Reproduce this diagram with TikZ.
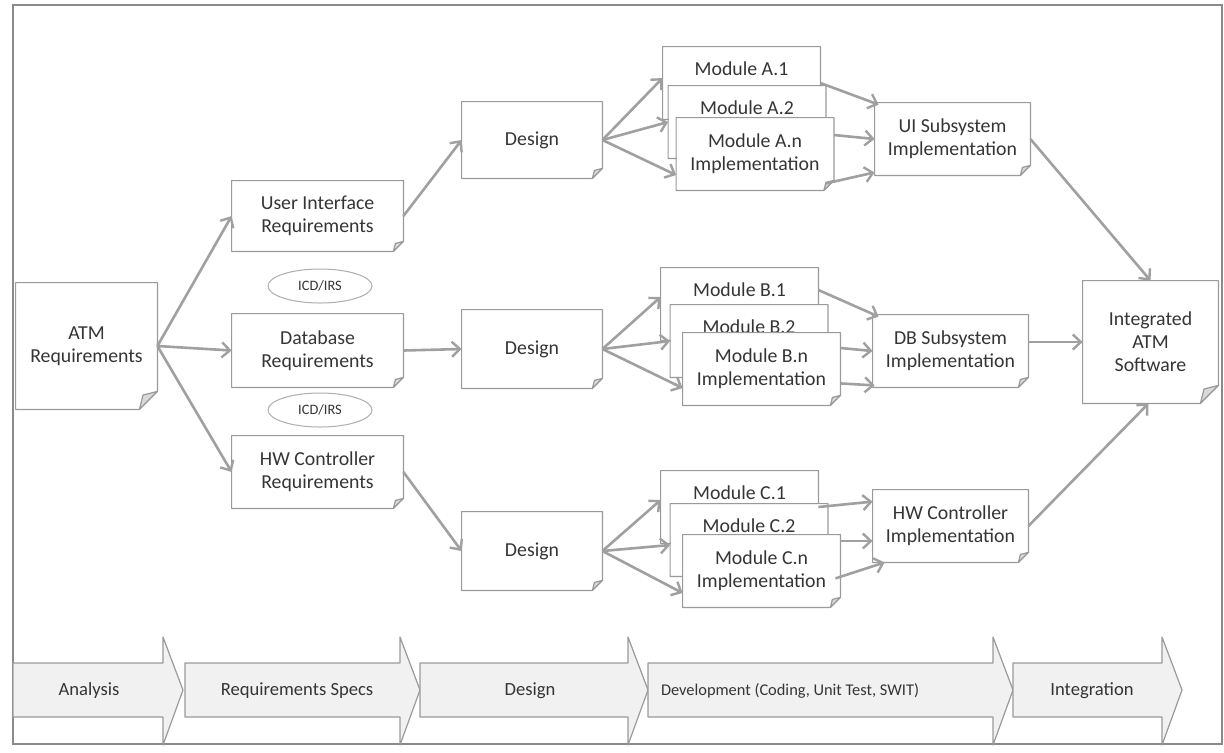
\documentclass[tikz,border=0pt]{standalone}
\usepackage{fontspec}
\setmainfont{Carlito}
\usetikzlibrary{arrows.meta,shapes.geometric,calc}

\definecolor{ink}{HTML}{353535}
\definecolor{edge}{HTML}{9A9A9A}
\definecolor{flow}{HTML}{A0A0A0}
\definecolor{flap}{HTML}{D9D9D9}
\definecolor{band}{HTML}{F1F1F1}
\definecolor{framecol}{HTML}{8A8A8A}

\tikzset{
  page/.style={rectangle, fill=white, inner sep=0pt, align=center, text=ink,
    font=\fontsize{9.9}{11.5}\selectfont},
  % a single line of text sitting in the upper part of a sheet
  upper/.style={text height=7pt, text depth=15pt},
  pageline/.style={draw=edge, line width=0.6pt, line join=round},
  tag/.style={ellipse, draw=edge!80, fill=white, line width=0.5pt, inner sep=0pt,
    minimum width=52pt, minimum height=17pt, text=ink, font=\fontsize{7.2}{8}\selectfont},
  flow/.style={draw=flow, line width=1.3pt,
    -{Straight Barb[length=4pt,width=7.5pt,line width=1.2pt]}},
  phaseline/.style={draw=edge, line width=0.6pt, fill=band, line join=round},
  phasetext/.style={text=ink, inner sep=0pt, font=\fontsize{9.3}{11}\selectfont}
}

% A sheet of paper with a dog-eared lower right corner.
% [#1 options], #2 name, #3 centre, #4 width, #5 height, #6 corner size, #7 text
\newcommand{\pagebox}[7][]{%
  \node[page, minimum width=#4, minimum height=#5, #1] (#2) at (#3) {#7};
  \draw[pageline] (#2.north west) -- (#2.north east) -- ([yshift=#6]#2.south east)
    -- ([xshift=-#6]#2.south east) -- (#2.south west) -- cycle;
  \draw[pageline, fill=flap] ([yshift=#6]#2.south east) -- ([xshift=-#6]#2.south east)
    -- ([shift={(-0.8*#6,0.8*#6)}]#2.south east) -- cycle;
}

% A block arrow of the phase band: [#1 text options], #2 name, #3 left end, #4 tip,
% #5 label x, #6 label
\newcommand{\phase}[6][]{%
  \draw[phaseline] (#3,663) -- (#4-20,663) -- (#4-20,637) -- (#4,690)
    -- (#4-20,745) -- (#4-20,717) -- (#3,717) -- cycle;
  \node[phasetext, #1] (#2) at (#5,691) {#6};
}

\begin{document}
\begin{tikzpicture}[x=0.5pt,y=-0.5pt]
\useasboundingbox (0,0) rectangle (1224,752);
\fill[white] (0,0) rectangle (1224,752);
\draw[framecol, line width=0.8pt] (13,5) rectangle (1222,744);

% requirements
\pagebox{atm}{86.5,346}{70.5pt}{63pt}{9pt}{ATM\\Requirements}
\pagebox{uireq}{317.5,216}{85.5pt}{35pt}{5pt}{User Interface\\Requirements}
\pagebox{dbreq}{317.5,350.5}{85.5pt}{36.5pt}{5pt}{Database\\Requirements}
\pagebox{hwreq}{317.5,472}{85.5pt}{36pt}{5pt}{HW Controller\\Requirements}
\node[tag] (icd1) at (320,286) {ICD/IRS};
\node[tag] (icd2) at (320,410) {ICD/IRS};

% design
\pagebox{dsa}{532,140}{70pt}{38pt}{5pt}{Design}
\pagebox{dsb}{532,349}{70pt}{39pt}{5pt}{Design}
\pagebox{dsc}{532,551}{70pt}{39pt}{5pt}{Design}

% modules, stacked so that each one hides the lower part of the one before
\pagebox[upper]{ma1}{741.5,83}{78.5pt}{36pt}{5pt}{Module A.1}
\pagebox[upper]{ma2}{747,122}{78.5pt}{36pt}{5pt}{Module A.2}
\pagebox{man}{755,154}{78.5pt}{36pt}{5pt}{Module A.n\\Implementation}
\pagebox[upper]{mb1}{739.5,304}{78.5pt}{36pt}{5pt}{Module B.1}
\pagebox[upper]{mb2}{749,341}{78.5pt}{36pt}{5pt}{Module B.2}
\pagebox{mbn}{761.5,369}{78.5pt}{36pt}{5pt}{Module B.n\\Implementation}
\pagebox[upper]{mc1}{739.5,507}{78.5pt}{36pt}{5pt}{Module C.1}
\pagebox[upper]{mc2}{749,540}{78.5pt}{36pt}{5pt}{Module C.2}
\pagebox{mcn}{761.5,571}{78.5pt}{36pt}{5pt}{Module C.n\\Implementation}

% subsystems
\pagebox{uiimp}{952.5,139}{77.5pt}{36pt}{5pt}{UI Subsystem\\Implementation}
\pagebox{dbimp}{950.5,351}{77.5pt}{36pt}{5pt}{DB Subsystem\\Implementation}
\pagebox{hwimp}{950.5,526}{77.5pt}{36pt}{5pt}{HW Controller\\Implementation}
\pagebox{integ}{1150.5,342}{67.5pt}{61pt}{9pt}{Integrated\\ATM\\Software}

% requirements flow
\draw[flow] (atm.east) -- (uireq.west);
\draw[flow] (atm.east) -- (dbreq.west);
\draw[flow] (atm.east) -- (hwreq.west);
\draw[flow] (uireq.east) -- (dsa.west);
\draw[flow] (dbreq.east) -- (dsb.west);
\draw[flow] (hwreq.east) -- (dsc.west);

% design to modules
\draw[flow] (dsa.east) -- ([yshift=2.5pt]ma1.west);
\draw[flow] (dsa.east) -- (ma2.west);
\draw[flow] (dsa.east) -- ([yshift=-10.5pt]man.west);
\draw[flow] (dsb.east) -- ([yshift=3.5pt]mb1.west);
\draw[flow] (dsb.east) -- (mb2.west);
\draw[flow] (dsb.east) -- ([yshift=-9.5pt]mbn.west);
\draw[flow] (dsc.east) -- ([yshift=3.5pt]mc1.west);
\draw[flow] (dsc.east) -- ([yshift=-2.5pt]mc2.west);
\draw[flow] (dsc.east) -- ([yshift=-11pt]mcn.west);

% modules to subsystems
\draw[flow] (ma1.east) -- ([shift={(2pt,-1pt)}]uiimp.north west);
\draw[flow] ([yshift=9.5pt]man.east) -- (uiimp.west);
\draw[flow] ([shift={(-4pt,3.5pt)}]man.south east) -- ([yshift=1.5pt]uiimp.south west);
\draw[flow] ([yshift=7pt]mb1.east) -- ([shift={(3pt,-1pt)}]dbimp.north west);
\draw[flow] ([yshift=10.5pt]mbn.east) -- (dbimp.west);
\draw[flow] ([yshift=11pt]mbn.south east) -- ([shift={(1pt,1pt)}]dbimp.south west);
\draw[flow] (mc1.east) -- ([yshift=-6pt]hwimp.north west);
\draw[flow] ([yshift=15pt]mcn.east) -- ([yshift=-7.5pt]hwimp.west);
\draw[flow] ([shift={(-2.5pt,14.5pt)}]mcn.south east) -- ([xshift=6pt]hwimp.south west);

% subsystems to integration
\draw[flow] (uiimp.east) -- (integ.north);
\draw[flow] ([yshift=4.5pt]dbimp.east) -- (integ.west);
\draw[flow] (hwimp.east) -- ([xshift=-1pt]integ.south);

% phase band
\phase{ph1}{13}{183}{89}{Analysis}
\phase{ph2}{185}{420}{297}{Requirements Specs}
\phase{ph3}{420}{648}{530}{Design}
\phase[font=\fontsize{8.2}{10}\selectfont]{ph4}{648}{1013}{790}{Development (Coding, Unit Test, SWIT)}
\phase{ph5}{1013}{1182}{1092}{Integration}
\end{tikzpicture}
\end{document}
